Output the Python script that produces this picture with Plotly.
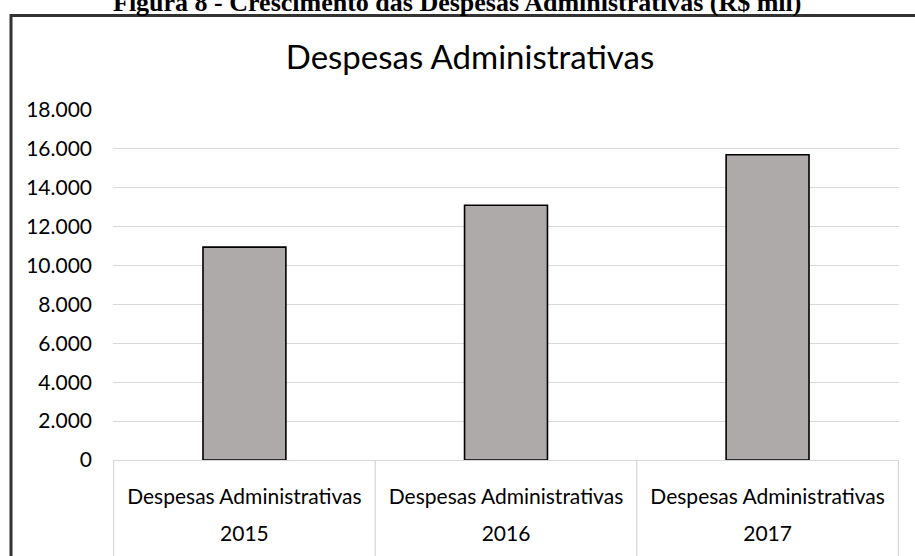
import plotly.graph_objects as go

years = ["2015", "2016", "2017"]
series_name = "Despesas Administrativas"
values = [10950, 13100, 15700]
y_ticks = [0, 2000, 4000, 6000, 8000, 10000, 12000, 14000, 16000, 18000]
y_tick_labels = ["0", "2.000", "4.000", "6.000", "8.000", "10.000", "12.000", "14.000", "16.000", "18.000"]
chart_title = "Despesas Administrativas"
figure_caption = "Figura 8 - Crescimento das Despesas Administrativas (R$ mil)"

FONT = "Lato"

fig = go.Figure()
fig.add_trace(go.Bar(
    x=[years, [series_name + "<br> "] * len(years)],
    y=values,
    marker=dict(color="#AEAAA9", line=dict(color="black", width=1.6)),
    showlegend=False,
))

W, H = 915, 556
ml, mr, mt, mb = 113, 16, 110, 94
pw, ph = W - ml - mr, H - mt - mb

def px_x(px):
    return (px - ml) / pw

def px_y(py):
    return 1 - (py - mt) / ph

fig.update_layout(
    width=W, height=H,
    margin=dict(l=ml, r=mr, t=mt, b=mb),
    paper_bgcolor="white", plot_bgcolor="white",
    bargap=0.683,
    font=dict(family=FONT, color="#000000", size=21),
    title=dict(text=chart_title, x=470 / W, xref="container", xanchor="center",
               y=1 - 57 / H, yanchor="middle",
               font=dict(family=FONT, size=33, color="#000000")),
)
fig.update_yaxes(
    range=[0, 18000], tickvals=y_ticks, ticktext=y_tick_labels,
    showgrid=True, gridcolor="#D9D9D9", gridwidth=1.3,
    zeroline=False, showline=False, ticks="", ticklabelstandoff=20,
    tickfont=dict(family=FONT, size=21, color="#000000"),
)
fig.update_xaxes(
    showline=True, linecolor="#D9D9D9", linewidth=1.3,
    showdividers=False, ticklabelstandoff=18,
    ticks="", tickfont=dict(family=FONT, size=21, color="#000000"),
)

# category separators of the two-level axis box
n = len(years)
for b in range(n + 1):
    fig.add_shape(type="line", xref="x", yref="paper",
                  x0=b - 0.5, x1=b - 0.5, y0=0, y1=px_y(600),
                  line=dict(color="#D9D9D9", width=1.3))

# caption above the chart frame (partially cut off at the top)
fig.add_annotation(text="<b>" + figure_caption + "</b>", xref="paper", yref="paper",
                   x=px_x(457), y=px_y(18), xanchor="center", yanchor="bottom",
                   showarrow=False, font=dict(family="Liberation Serif", size=26, color="#000000"))

# chart frame
fig.add_shape(type="rect", xref="paper", yref="paper",
              x0=px_x(11), x1=px_x(930), y0=px_y(600), y1=px_y(15),
              line=dict(color="#333333", width=3), layer="below")

fig.write_html("out.html")
